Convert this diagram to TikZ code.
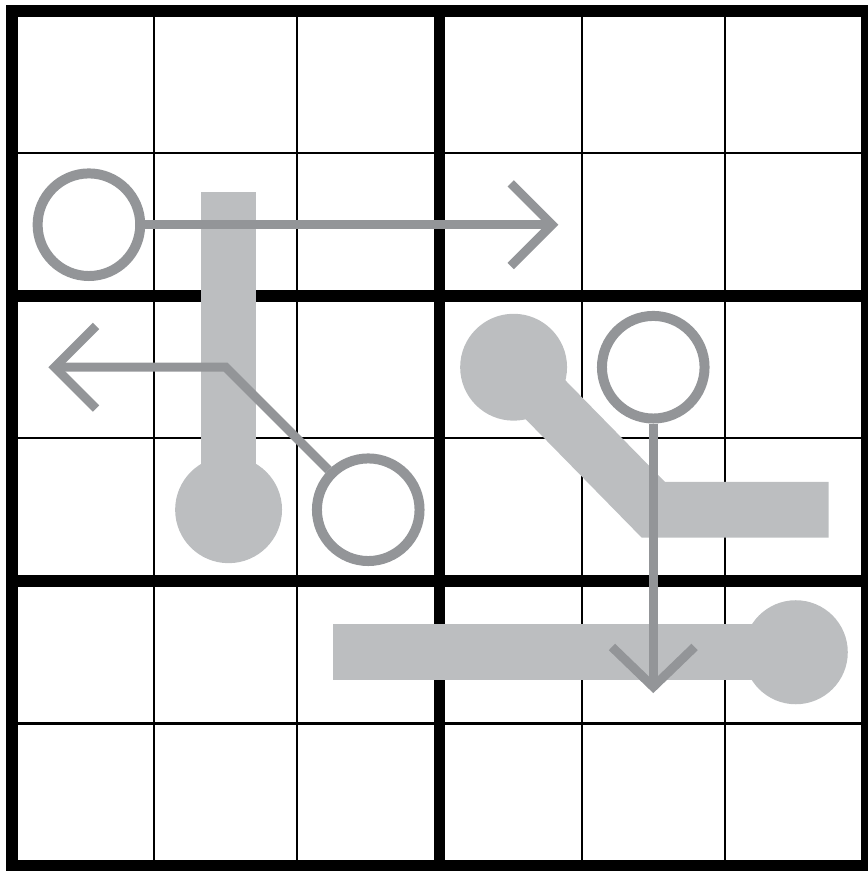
\documentclass[tikz,border=0pt]{standalone}
\definecolor{ringgray}{HTML}{939598}
\definecolor{thermogray}{HTML}{BCBEC0}
\begin{document}
\begin{tikzpicture}[x=1cm,y=1cm,
  thingrid/.style={line width=0.4pt},
  thickgrid/.style={line width=0.084cm},
  shaft/.style={draw=thermogray,line width=0.39cm},
  bulb/.style={circle,fill=thermogray,inner sep=0pt,minimum size=0.75cm},
  ring/.style={circle,draw=ringgray,fill=white,line width=0.07cm,inner sep=0pt,minimum size=0.72cm},
  arrowline/.style={draw=ringgray,line width=0.063cm}]%
% 6x6 grid, one cell = 1cm, boxes of 3x2
\useasboundingbox (-0.084,-0.035) rectangle (6,6.077);
\foreach \i in {1,2,4,5}
  \draw[thingrid] (\i,0) -- (\i,6);
\foreach \i in {1,3,5}
  \draw[thingrid] (0,\i) -- (6,\i);
\draw[thickgrid] (3,0) -- (3,6);
\foreach \i in {2,4}
  \draw[thickgrid] (0,\i) -- (6,\i);
\draw[thickgrid] (0,0) rectangle (6,6);
% thermometers
\node[bulb] (bulbA) at (1.52,2.5) {};
\coordinate (topA) at (1.52,4.73);
\draw[shaft] (bulbA.center) -- (topA);
\node[bulb] (bulbB) at (3.52,3.5) {};
\coordinate (bendB) at (4.5,2.5);
\coordinate (endB) at (5.73,2.5);
\draw[shaft] (bulbB.center) -- (bendB) -- (endB);
\node[bulb,minimum size=0.73cm] (bulbC) at (5.5,1.5) {};
\coordinate (endC) at (2.25,1.5);
\draw[shaft] (bulbC.center) -- (endC);
% arrows
\node[ring] (ringA) at (0.54,4.5) {};
\coordinate (tipA) at (3.79,4.5);
\draw[arrowline] (ringA) -- (tipA);
\draw[arrowline] (tipA) ++(-0.29,0.29) -- (tipA) -- ++(-0.29,-0.29);
\node[ring] (ringB) at (2.5,2.5) {};
\coordinate (bendArr) at (1.5,3.5);
\coordinate (tipB) at (0.3,3.5);
\draw[arrowline] (ringB) -- (bendArr) -- (tipB);
\draw[arrowline] (tipB) ++(0.29,0.29) -- (tipB) -- ++(0.29,-0.29);
\node[ring] (ringC) at (4.5,3.5) {};
\coordinate (tipC) at (4.5,1.257);
\draw[arrowline] (ringC) -- (tipC);
\draw[arrowline] (tipC) ++(-0.29,0.28) -- (tipC) -- ++(0.29,0.28);
\end{tikzpicture}
\end{document}
